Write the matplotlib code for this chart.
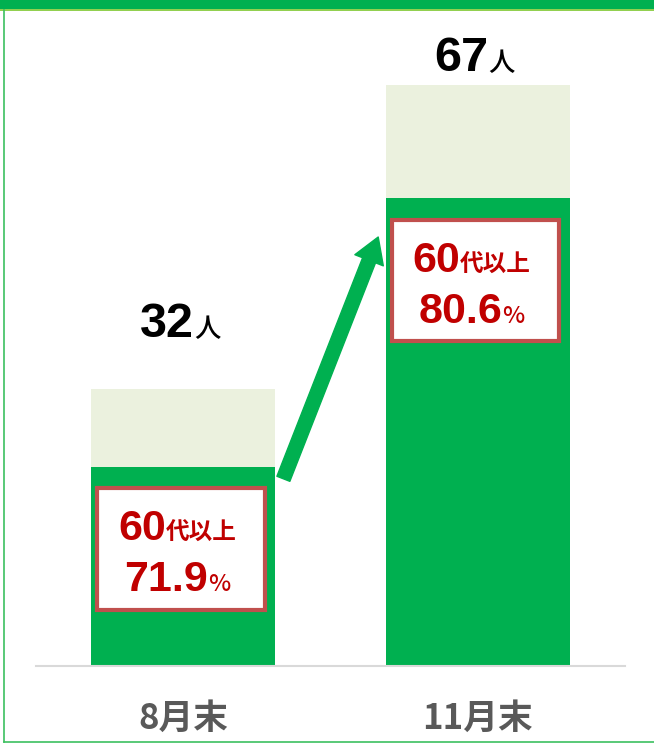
import matplotlib.pyplot as plt
from matplotlib.patches import Rectangle
from matplotlib.transforms import offset_copy

# データ
months = ['8月末', '11月末']
totals = [32, 67]
over60 = [23, 54]
over60_pct = ['71.9', '80.6']

GREEN = '#00B050'
LIGHT = '#EBF1DE'
RED = '#C00000'
BOX_EDGE = '#C0504D'
JP = 'Noto Sans CJK JP'
NUM = ['Liberation Sans', JP]

fig = plt.figure(figsize=(6.54, 7.43), dpi=100)
ax = fig.add_axes([36 / 654, 77 / 743, 589 / 654, 624 / 743])
ax.set_xlim(-0.5, 1.5)
ax.set_ylim(0, 72)

x = list(range(len(months)))
ax.bar(x, totals, width=0.625, color=LIGHT, zorder=1)
ax.bar(x, over60, width=0.625, color=GREEN, zorder=2)

for s in ['top', 'left', 'right']:
    ax.spines[s].set_visible(False)
ax.spines['bottom'].set_color('#D9D9D9')
ax.spines['bottom'].set_linewidth(1.5)
ax.set_yticks([])
ax.set_xticks(x, months, fontsize=25, fontweight='bold', color='#595959', family=JP)
ax.tick_params(axis='x', length=0, pad=25)

renderer = fig.canvas.get_renderer()


def mixed_text(xc, yc, parts, dy=0, color='black'):
    """大小の文字を並べて中央揃えで描く"""
    objs = []
    for s, size, fam, wt in parts:
        t = ax.text(0, 0, s, fontsize=size, fontweight=wt, family=fam,
                    color=color, va='baseline', ha='left', zorder=5)
        objs.append((t, t.get_window_extent(renderer).width))
    start = -sum(w for _, w in objs) / 2
    for t, w in objs:
        t.set_position((xc, yc))
        t.set_transform(offset_copy(ax.transData, fig, x=start, y=dy, units='dots'))
        start += w


# 合計ラベル
label_dy = [52, 14]
for i, tot in enumerate(totals):
    mixed_text(x[i] - 0.01, tot, [(str(tot), 35, NUM, 'bold'), ('人', 19, JP, 'medium')],
               dy=label_dy[i])

# 60代以上の枠
for i, g in enumerate(over60):
    left = x[i] - 0.3125 + 0.02
    top = g - 2.5
    ax.add_patch(Rectangle((left, top - 14), 0.57, 14, facecolor='white',
                           edgecolor=BOX_EDGE, linewidth=3, zorder=4))
    mixed_text(x[i] - 0.02, top, [('60', 31, NUM, 'bold'), ('代以上', 17, JP, 'bold')],
               dy=-52, color=RED)
    mixed_text(x[i] - 0.02, top, [(over60_pct[i], 31, NUM, 'bold'), ('%', 17, JP, 'medium')],
               dy=-103, color=RED)

# 矢印
ax.annotate('', xy=(0.662, 49.5), xytext=(0.34, 21.6),
            arrowprops=dict(arrowstyle='simple,head_length=0.9,head_width=1.1,tail_width=0.5',
                            mutation_scale=20, color=GREEN, shrinkA=0, shrinkB=0), zorder=6)

# 枠線
fig.patches.append(Rectangle((0, 1 - 9 / 743), 1, 9 / 743, transform=fig.transFigure,
                             facecolor=GREEN, edgecolor='none'))
fig.patches.append(Rectangle((0, 1 - 11 / 743), 1, 2 / 743, transform=fig.transFigure,
                             facecolor='#92D050', edgecolor='none'))
fig.add_artist(plt.Line2D([3.5 / 654, 3.5 / 654], [1 / 743, 1 - 10 / 743],
                          transform=fig.transFigure, color='#3CC060', lw=1.2))
fig.add_artist(plt.Line2D([3.5 / 654, 1], [1.5 / 743, 1.5 / 743],
                          transform=fig.transFigure, color='#3CC060', lw=1.2))

plt.savefig('out.png', dpi=100)
